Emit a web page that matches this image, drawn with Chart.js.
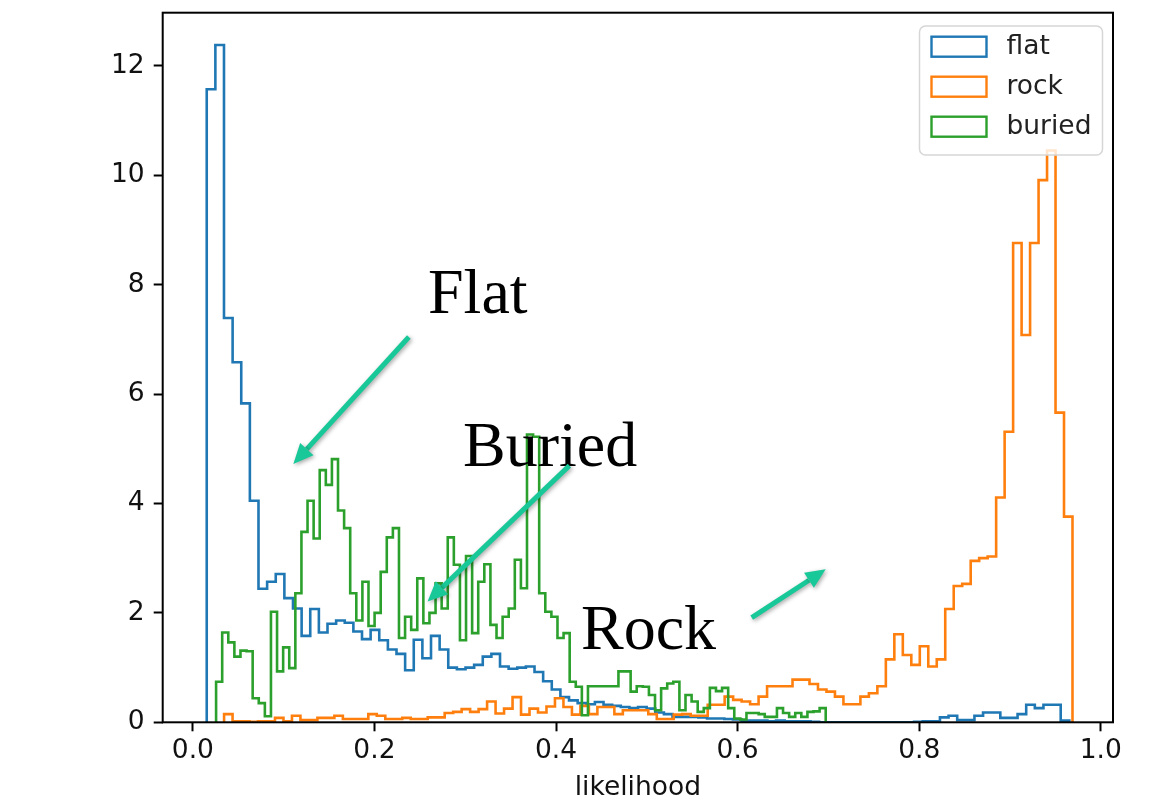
<!DOCTYPE html>
<html>
<head>
<meta charset="utf-8">
<script src="https://cdn.jsdelivr.net/npm/chart.js@4.4.0/dist/chart.umd.min.js"></script>
<style>
  html, body { margin: 0; padding: 0; background: #fff; }
  #wrap { width: 1171px; height: 800px; }
</style>
</head>
<body>
<div id="wrap"><canvas id="chart" width="1171" height="800"></canvas></div>
<script>
// step histograms (density), 100 bins per class
const seriesNames = ['flat', 'rock', 'buried'];
const seriesColors = ['#1f77b4', '#ff7f0e', '#2ca02c'];

// first and last bin edge of each class
const flatRange = [0.0153, 0.9653];
const rockRange = [0.0344, 0.9688];
const buriedRange = [0.0256, 0.6970];

const flatValues = [
  11.57, 12.38, 7.39, 6.58, 5.83, 4.05, 2.44, 2.57, 2.71, 2.27,
  2.08, 1.58, 2.07, 1.64, 1.80, 1.86, 1.82, 1.66, 1.52, 1.69,
  1.50, 1.33, 1.25, 0.95, 1.51, 1.17, 1.58, 1.33, 1.00, 0.97,
  1.00, 1.05, 1.20, 1.25, 1.02, 0.98, 1.00, 1.02, 0.92, 0.75,
  0.60, 0.46, 0.40, 0.35, 0.33, 0.37, 0.32, 0.30, 0.28, 0.26,
  0.28, 0.25, 0.18, 0.15, 0.10, 0.10, 0.10, 0.09, 0.07, 0.07,
  0.06, 0.05, 0.03, 0.03, 0.03, 0.02, 0.03, 0.02, 0.02, 0.02,
  0.01, 0, 0, 0, 0, 0, 0, 0, 0, 0,
  0, 0, 0.01, 0.02, 0.02, 0.09, 0.12, 0.04, 0.04, 0.12,
  0.18, 0.18, 0.08, 0.08, 0.15, 0.32, 0.26, 0.32, 0.32, 0.03
];

const rockValues = [
  0.15, 0.02, 0.02, 0.01, 0.02, 0.02, 0.08, 0.02, 0.12, 0.04,
  0.04, 0.08, 0.08, 0.12, 0.06, 0.06, 0.06, 0.15, 0.12, 0.06,
  0.06, 0.08, 0.06, 0.06, 0.09, 0.09, 0.17, 0.19, 0.24, 0.19,
  0.24, 0.38, 0.16, 0.25, 0.46, 0.14, 0.25, 0.18, 0.29, 0.44,
  0.28, 0.14, 0.30, 0.15, 0.28, 0.28, 0.15, 0.22, 0.22, 0.22,
  0.15, 0.06, 0.06, 0.14, 0.15, 0.12, 0.12, 0.32, 0.32, 0.47,
  0.41, 0.38, 0.33, 0.47, 0.66, 0.66, 0.66, 0.78, 0.78, 0.70,
  0.60, 0.56, 0.47, 0.33, 0.33, 0.47, 0.53, 0.66, 1.15, 1.61,
  1.23, 1.05, 1.39, 1.02, 1.15, 2.07, 2.49, 2.53, 2.95, 3.00,
  3.03, 4.11, 5.31, 8.76, 7.08, 8.76, 9.91, 10.45, 5.66, 3.76
];

const buriedValues = [
  0.74, 1.64, 1.46, 1.20, 1.31, 1.30, 0.44, 0.35, 0.11, 2.02,
  0.93, 1.37, 0.99, 2.36, 3.48, 4.05, 3.36, 4.61, 4.34, 4.81,
  3.87, 3.55, 2.36, 1.86, 2.57, 1.76, 2.00, 2.75, 3.38, 3.55,
  1.54, 1.93, 1.69, 2.63, 1.81, 2.00, 2.54, 2.08, 3.38, 2.88,
  1.50, 3.04, 1.63, 2.57, 2.89, 1.78, 1.54, 1.93, 2.08, 2.97,
  2.45, 5.26, 5.22, 2.36, 2.02, 1.93, 1.54, 1.63, 0.74, 0.65,
  0.13, 0.66, 0.66, 0.66, 0.66, 0.66, 0.93, 0.93, 0.56, 0.66,
  0.65, 0.50, 0.22, 0.62, 0.71, 0.74, 0.22, 0.50, 0.38, 0.19,
  0.26, 0.63, 0.57, 0.63, 0.26, 0.07, 0.05, 0.17, 0.17, 0.15,
  0.10, 0.10, 0.26, 0.17, 0.10, 0.17, 0.10, 0.19, 0.20, 0.26
];

const xTicks = [0.0, 0.2, 0.4, 0.6, 0.8, 1.0];
const yTicks = [0, 2, 4, 6, 8, 10, 12];
const xLabel = 'likelihood';

// hand-drawn notes on the figure, in data units
const notes = [
  { text: 'Flat',   x: 0.2590, y: 7.483, from: [0.2379, 7.043], to: [0.1107, 4.722] },
  { text: 'Buried', x: 0.2976, y: 4.686, from: [0.4147, 4.691], to: [0.2585, 2.208] },
  { text: 'Rock',   x: 0.4275, y: 1.340, from: [0.6155, 1.912], to: [0.6970, 2.797] }
];

// outline of a step histogram: up at the first edge, down at the last
function stepPoints(values, range) {
  const w = (range[1] - range[0]) / values.length;
  const pts = [{ x: range[0], y: 0 }];
  values.forEach((v, i) => pts.push({ x: range[0] + i * w, y: v }));
  pts.push({ x: range[1], y: 0 });
  return pts;
}

const font = 'DejaVu Sans';

// axes box, drawn over the lines like matplotlib spines
const framePlugin = {
  id: 'frame',
  afterDatasetsDraw(chart) {
    const { ctx, chartArea: a } = chart;
    ctx.save();
    ctx.strokeStyle = '#000';
    ctx.lineWidth = 2;
    ctx.strokeRect(a.left, a.top, a.right - a.left, a.bottom - a.top);
    ctx.restore();
  }
};

// legend box inside the axes, upper right
const boxLegend = {
  id: 'boxLegend',
  afterDatasetsDraw(chart) {
    const { ctx, chartArea: a } = chart;
    const w = 183, h = 129;
    const x = a.right - 10.5 - w, y = a.top + 13.3, r = 6;
    ctx.save();
    ctx.beginPath();
    ctx.moveTo(x + r, y);
    ctx.arcTo(x + w, y, x + w, y + h, r);
    ctx.arcTo(x + w, y + h, x, y + h, r);
    ctx.arcTo(x, y + h, x, y, r);
    ctx.arcTo(x, y, x + w, y, r);
    ctx.closePath();
    ctx.fillStyle = 'rgba(255,255,255,0.8)';
    ctx.fill();
    ctx.strokeStyle = '#d6d6d6';
    ctx.lineWidth = 1.5;
    ctx.stroke();
    ctx.font = '26.5px "' + font + '"';
    ctx.textBaseline = 'middle';
    ctx.textAlign = 'left';
    seriesNames.forEach((name, i) => {
      const cy = y + 20.7 + i * 40;
      ctx.strokeStyle = seriesColors[i];
      ctx.lineWidth = 2.4;
      ctx.strokeRect(x + 12, cy - 10, 55, 20);
      ctx.fillStyle = '#222';
      ctx.fillText(name, x + 87, cy);
    });
    ctx.restore();
  }
};

// serif captions and teal arrows added on top of the plot
const notePlugin = {
  id: 'notes',
  afterDraw(chart) {
    const { ctx, scales: { x, y } } = chart;
    ctx.save();
    notes.forEach(n => {
      ctx.font = '64px "Liberation Serif"';
      ctx.fillStyle = '#000';
      ctx.textAlign = 'left';
      ctx.textBaseline = 'alphabetic';
      ctx.fillText(n.text, x.getPixelForValue(n.x), y.getPixelForValue(n.y));

      const x1 = x.getPixelForValue(n.from[0]), y1 = y.getPixelForValue(n.from[1]);
      const x2 = x.getPixelForValue(n.to[0]), y2 = y.getPixelForValue(n.to[1]);
      const ang = Math.atan2(y2 - y1, x2 - x1);
      const head = 20, half = 9;
      const bx = x2 - head * Math.cos(ang), by = y2 - head * Math.sin(ang);
      ctx.shadowColor = 'rgba(0,0,0,0.35)';
      ctx.shadowBlur = 4;
      ctx.shadowOffsetX = 1.5;
      ctx.shadowOffsetY = 1.5;
      ctx.strokeStyle = '#19c898';
      ctx.fillStyle = '#19c898';
      ctx.lineWidth = 5;
      ctx.lineCap = 'butt';
      ctx.beginPath();
      ctx.moveTo(x1, y1);
      ctx.lineTo(bx, by);
      ctx.stroke();
      ctx.beginPath();
      ctx.moveTo(x2, y2);
      ctx.lineTo(bx + half * Math.sin(ang), by - half * Math.cos(ang));
      ctx.lineTo(bx - half * Math.sin(ang), by + half * Math.cos(ang));
      ctx.closePath();
      ctx.fill();
      ctx.shadowColor = 'transparent';
    });
    ctx.restore();
  }
};

const allValues = [flatValues, rockValues, buriedValues];
const allRanges = [flatRange, rockRange, buriedRange];

// pin the plot box: no extra room for half tick labels
function pinX(s) {
  s.height = 77.7;
  s.paddingLeft = 0; s.paddingRight = 0; s.paddingTop = 0; s.paddingBottom = 0;
}
function pinY(s) {
  s.width = 162.7;
  s.paddingLeft = 0; s.paddingRight = 0; s.paddingTop = 0; s.paddingBottom = 0;
}

new Chart(document.getElementById('chart'), {
  type: 'line',
  data: {
    datasets: seriesNames.map((name, i) => ({
      label: name,
      data: stepPoints(allValues[i], allRanges[i]),
      borderColor: seriesColors[i],
      backgroundColor: seriesColors[i],
      borderWidth: 2.6,
      stepped: 'before',
      fill: false,
      pointRadius: 0,
      order: 2 - i
    }))
  },
  options: {
    responsive: false,
    animation: false,
    devicePixelRatio: 1,
    layout: { autoPadding: false, padding: { top: 12.7, right: 58, left: 0, bottom: 0 } },
    plugins: { legend: { display: false }, tooltip: { enabled: false } },
    scales: {
      x: {
        type: 'linear',
        min: -0.0332,
        max: 1.0134,
        afterFit: pinX,
        afterBuildTicks: s => { s.ticks = xTicks.map(v => ({ value: v })); },
        border: { display: false },
        grid: { drawOnChartArea: false, drawTicks: true, tickLength: 9, tickWidth: 2, tickColor: '#000' },
        ticks: {
          padding: 4,
          maxRotation: 0,
          color: '#111',
          font: { family: font, size: 26.5 },
          callback: v => v.toFixed(1)
        },
        title: {
          display: true,
          text: xLabel,
          color: '#111',
          font: { family: font, size: 26.5, lineHeight: 0.8 },
          padding: { top: 0, bottom: 1 }
        }
      },
      y: {
        min: 0,
        max: 12.97,
        afterFit: pinY,
        afterBuildTicks: s => { s.ticks = yTicks.map(v => ({ value: v })); },
        border: { display: false },
        grid: { drawOnChartArea: false, drawTicks: true, tickLength: 9, tickWidth: 2, tickColor: '#000' },
        ticks: {
          padding: 9,
          color: '#111',
          font: { family: font, size: 26.5 },
          callback: v => String(v)
        }
      }
    }
  },
  plugins: [framePlugin, boxLegend, notePlugin]
});
</script>
</body>
</html>
